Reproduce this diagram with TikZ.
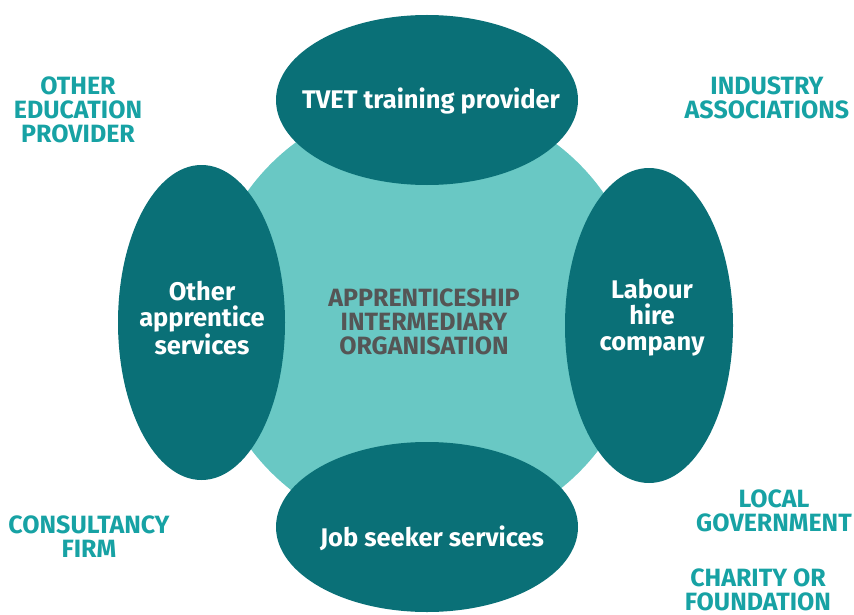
\documentclass[tikz,border=0pt]{standalone}
\usepackage{fontspec}
\setmainfont{Fira Sans}
\usetikzlibrary{shapes.geometric}

\definecolor{darkteal}{HTML}{0A7077}
\definecolor{lightteal}{HTML}{69C8C4}
\definecolor{labelteal}{HTML}{17A2A4}
\definecolor{hubgrey}{HTML}{555555}

\begin{document}
\begin{tikzpicture}[x=1pt,y=-1pt,
  partner/.style={ellipse,fill=darkteal,inner sep=0pt},
  partnertext/.style={text=white,align=center,inner sep=0pt,
    font=\fontsize{25.5}{26}\selectfont\bfseries},
  outside/.style={text=labelteal,align=center,inner sep=0pt,
    font=\fontsize{25}{24}\selectfont\bfseries}]
\useasboundingbox (0,0) rectangle (854,615);

\node[circle,fill=lightteal,minimum size=436pt] (hub) at (425,318) {};

\node[partner,minimum width=302pt,minimum height=170pt] (tvet) at (427,100) {};
\node[partner,minimum width=302pt,minimum height=170pt] (jobs) at (427,527) {};
\node[partner,minimum width=167pt,minimum height=315pt] (other) at (201.5,322.5) {};
\node[partner,minimum width=168pt,minimum height=315pt] (hire) at (649,325.5) {};

\node[partnertext] (tvettext) at (431,101) {TVET training provider};
\node[partnertext] (jobstext) at (432,538) {Job seeker services};
\node[partnertext] (othertext) at (202,318) {Other\\apprentice\\services};
\node[partnertext] (hiretext) at (652,318) {Labour\\hire\\company};

\node[text=hubgrey,align=center,font=\fontsize{25}{24}\selectfont\bfseries] (hubtext) at (424,322) {APPRENTICESHIP\\INTERMEDIARY\\ORGANISATION};

\node[outside] (edu) at (78,110) {OTHER\\EDUCATION\\PROVIDER};
\node[outside] (industry) at (767,98) {INDUSTRY\\ASSOCIATIONS};
\node[outside] (consult) at (89,537) {CONSULTANCY\\FIRM};
\node[outside] (local) at (774,511) {LOCAL\\GOVERNMENT};
\node[outside] (charity) at (758,590) {CHARITY OR\\FOUNDATION};
\end{tikzpicture}
\end{document}
